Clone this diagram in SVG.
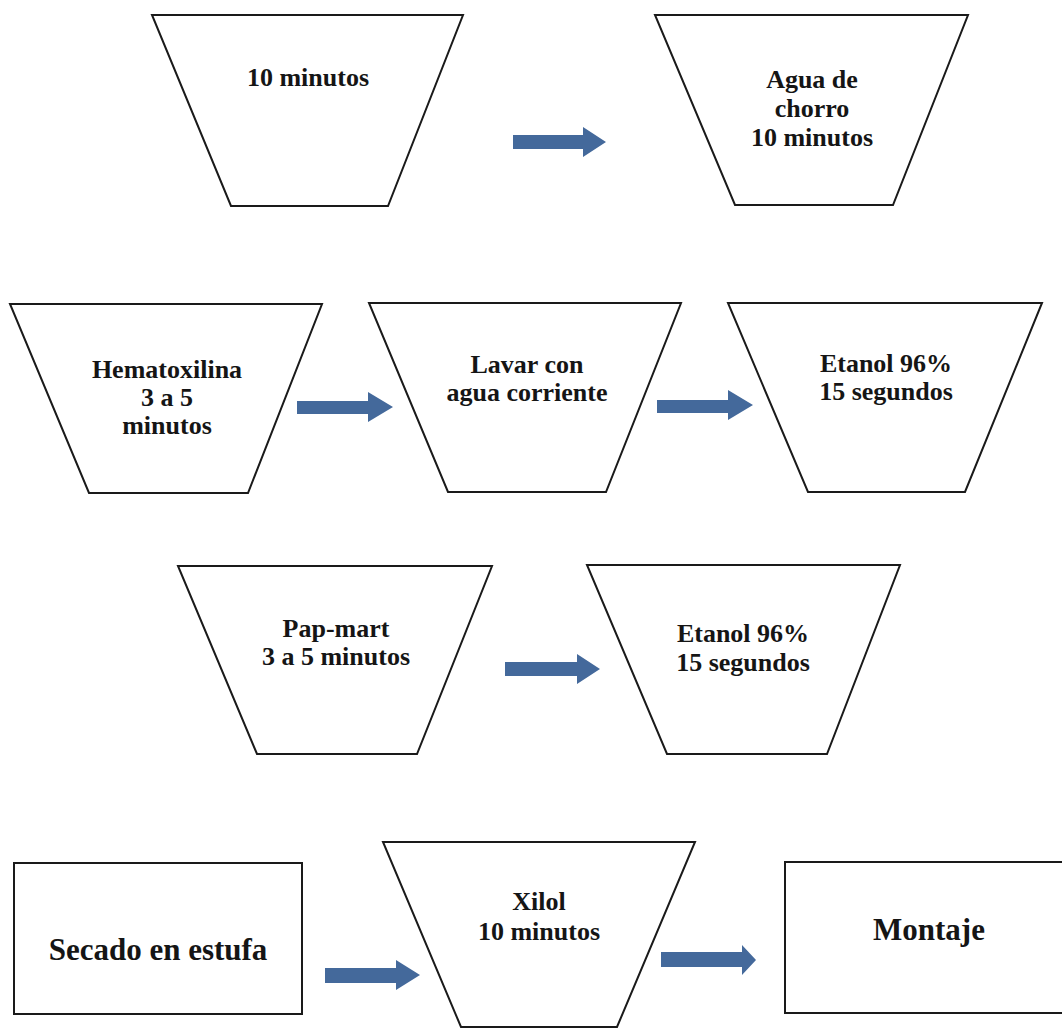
<svg xmlns="http://www.w3.org/2000/svg" width="1062" height="1029" viewBox="0 0 1062 1029">
<style>
.shape{fill:#ffffff;stroke:#1a1a1a;stroke-width:2;stroke-linejoin:miter}
.t{font-family:"Liberation Serif","Times New Roman",serif;font-weight:bold;font-size:26px;fill:#151515;text-anchor:middle}
.tb{font-size:31px}
.arrow{fill:#44699b}
</style>
<rect width="1062" height="1029" fill="#ffffff"/>
<g id="n1">
<polygon class="shape" points="152,15 463,15 388,206 231,206"/>
<text class="t" x="308" y="86">10 minutos</text>
</g>
<g id="n2">
<polygon class="shape" points="655,15 968,15 893,205 735,205"/>
<text class="t" x="812" y="88">Agua de</text>
<text class="t" x="812" y="117">chorro</text>
<text class="t" x="812" y="146">10 minutos</text>
</g>
<g id="n3">
<polygon class="shape" points="10,304 322,304 248,493 89,493"/>
<text class="t" x="167" y="378">Hematoxilina</text>
<text class="t" x="167" y="406">3 a 5</text>
<text class="t" x="167" y="434">minutos</text>
</g>
<g id="n4">
<polygon class="shape" points="369,303 681,303 606,492 448,492"/>
<text class="t" x="527" y="373">Lavar con</text>
<text class="t" x="527" y="401">agua corriente</text>
</g>
<g id="n5">
<polygon class="shape" points="728,303 1042,303 965,492 808,492"/>
<text class="t" x="886" y="372">Etanol 96%</text>
<text class="t" x="886" y="400">15 segundos</text>
</g>
<g id="n6">
<polygon class="shape" points="178,566 492,566 417,754 257,754"/>
<text class="t" x="336" y="637">Pap-mart</text>
<text class="t" x="336" y="665">3 a 5 minutos</text>
</g>
<g id="n7">
<polygon class="shape" points="587,565 900,565 827,754 667,754"/>
<text class="t" x="743" y="642">Etanol 96%</text>
<text class="t" x="743" y="671">15 segundos</text>
</g>
<g id="n8">
<rect class="shape" x="14" y="863" width="288" height="151"/>
<text class="t tb" x="158" y="960">Secado en estufa</text>
</g>
<g id="n9">
<polygon class="shape" points="383,842 695,842 617,1027 461,1027"/>
<text class="t" x="539" y="910">Xilol</text>
<text class="t" x="539" y="940">10 minutos</text>
</g>
<g id="n10">
<rect class="shape" x="785" y="862" width="290" height="151"/>
<text class="t tb" x="929" y="940">Montaje</text>
</g>
<g id="connectors">
<polygon class="arrow" points="513,135 583,135 583,127 606,142 583,157 583,149 513,149"/>
<polygon class="arrow" points="297,401 368,401 368,392 393,407 368,422 368,414 297,414"/>
<polygon class="arrow" points="657,400 728,400 728,390 753,405 728,420 728,413 657,413"/>
<polygon class="arrow" points="505,662 577,662 577,654 600,669 577,684 577,676 505,676"/>
<polygon class="arrow" points="325,968 396,968 396,960 420,975 396,990 396,983 325,983"/>
<polygon class="arrow" points="661,952 742,952 742,945 756,960 742,975 742,967 661,967"/>
</g>
</svg>
